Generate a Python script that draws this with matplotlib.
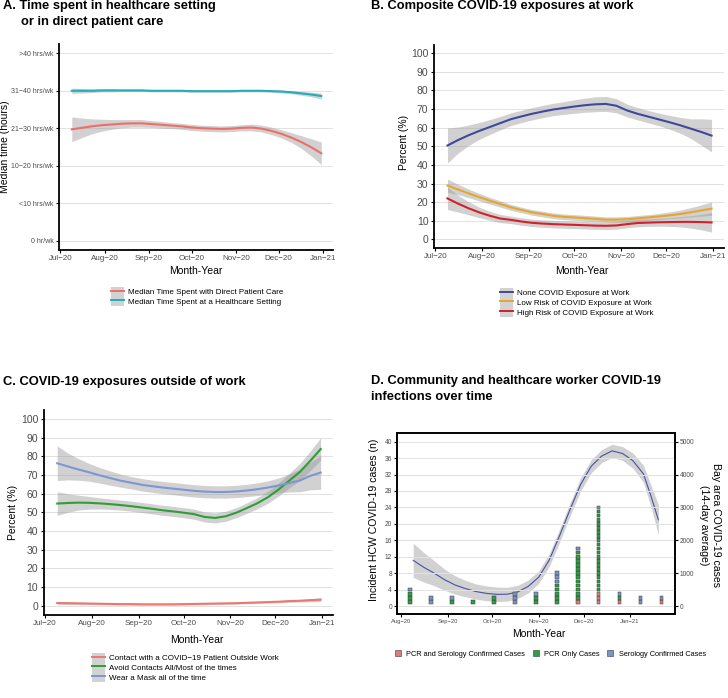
import numpy as np
import matplotlib
matplotlib.use("Agg")
import matplotlib.pyplot as plt
from matplotlib.lines import Line2D
from matplotlib.patches import Rectangle

plt.rcParams["font.family"] = ["Liberation Sans", "DejaVu Sans"]

# ---------------- data ----------------
# smoothed trends for panels A-C, read weekly from Jul 9 to Dec 31, 2020
trend_dates = np.arange(np.datetime64("2020-07-09"), np.datetime64("2021-01-01"), 7)

month_ticks = np.array(["2020-07-01", "2020-08-01", "2020-09-01", "2020-10-01",
                        "2020-11-01", "2020-12-01", "2021-01-01"], dtype="datetime64[D]")
month_labels = ["Jul\u221220", "Aug\u221220", "Sep\u221220", "Oct\u221220",
                "Nov\u221220", "Dec\u221220", "Jan\u221221"]

# A: median hours category (0 = "0 hr/wk" ... 5 = ">40 hrs/wk")
hour_labels = ["0 hr/wk", "<10 hrs/wk", "10\u221220 hrs/wk", "21\u221230 hrs/wk",
               "31\u221240 hrs/wk", ">40 hrs/wk"]
direct_care = [2.97, 3.01, 3.05, 3.08, 3.10, 3.12, 3.13, 3.13, 3.11, 3.09, 3.07, 3.05, 3.02,
               3.00, 2.99, 2.98, 2.99, 3.01, 3.02, 2.99, 2.93, 2.85, 2.75, 2.63, 2.49, 2.33]
direct_care_se = [0.33, 0.26, 0.2, 0.16, 0.13, 0.11, 0.1, 0.1, 0.09, 0.09, 0.08, 0.08, 0.08,
                  0.08, 0.08, 0.08, 0.08, 0.08, 0.09, 0.09, 0.1, 0.11, 0.13, 0.17, 0.23, 0.3]
hc_setting = [4.0, 4.0, 4.0, 4.01, 4.01, 4.01, 4.01, 4.01, 4.0, 4.0, 4.0, 4.0, 3.99,
              3.99, 3.99, 3.99, 3.99, 4.0, 4.0, 4.0, 3.99, 3.98, 3.96, 3.93, 3.9, 3.86]
hc_setting_se = [0.07, 0.06, 0.05, 0.04, 0.04, 0.03, 0.03, 0.03, 0.03, 0.03, 0.03, 0.03, 0.03,
                 0.03, 0.03, 0.03, 0.03, 0.03, 0.03, 0.03, 0.03, 0.04, 0.04, 0.05, 0.06, 0.08]

# B: composite exposure at work (%)
none_exp = [50.4, 53.3, 55.9, 58.2, 60.3, 62.4, 64.5, 66.0, 67.4, 68.6, 69.7, 70.5, 71.3,
            72.0, 72.5, 72.7, 71.7, 69.2, 67.4, 65.9, 64.4, 62.9, 61.3, 59.5, 57.7, 55.7]
none_exp_se = [9.4, 7.0, 5.5, 4.5, 4.0, 3.6, 3.4, 3.3, 3.3, 3.3, 3.3, 3.4, 3.6,
               3.8, 4.0, 4.0, 3.8, 3.4, 3.3, 3.3, 3.4, 3.7, 4.2, 5.2, 7.0, 8.8]
low_exp = [28.9, 26.8, 24.7, 22.7, 20.8, 19.0, 17.2, 15.8, 14.5, 13.6, 12.7, 12.1, 11.8,
           11.4, 11.0, 10.6, 10.6, 10.8, 11.3, 11.8, 12.3, 12.9, 13.6, 14.5, 15.5, 16.5]
low_exp_se = [3.5, 2.8, 2.3, 2.0, 1.8, 1.7, 1.6, 1.5, 1.5, 1.5, 1.5, 1.5, 1.5,
              1.5, 1.5, 1.5, 1.5, 1.5, 1.5, 1.5, 1.6, 1.8, 2.1, 2.5, 3.0, 3.6]
high_exp = [22.0, 19.2, 16.7, 14.5, 12.7, 11.2, 10.5, 9.6, 8.9, 8.5, 8.2, 8.0, 7.8,
            7.6, 7.4, 7.3, 7.5, 8.2, 8.8, 9.0, 9.2, 9.3, 9.4, 9.4, 9.3, 9.1]
high_exp_se = [6.0, 4.5, 3.5, 2.8, 2.4, 2.2, 2.0, 2.0, 2.0, 2.0, 2.0, 2.0, 2.0,
               2.0, 2.0, 2.0, 2.0, 2.0, 2.0, 2.0, 2.1, 2.3, 2.7, 3.3, 4.1, 5.2]

# C: exposures outside work (%)
contact_out = [1.4, 1.3, 1.2, 1.1, 1.0, 0.9, 0.8, 0.8, 0.7, 0.7, 0.7, 0.7, 0.8,
               0.9, 1.0, 1.1, 1.2, 1.3, 1.5, 1.7, 1.9, 2.1, 2.4, 2.6, 2.9, 3.2]
contact_out_se = [0.9, 0.8, 0.7, 0.6, 0.5, 0.5, 0.5, 0.5, 0.5, 0.5, 0.5, 0.5, 0.5,
                  0.5, 0.5, 0.5, 0.5, 0.5, 0.5, 0.5, 0.5, 0.6, 0.6, 0.7, 0.8, 1.0]
avoid = [54.7, 55.0, 55.2, 55.1, 54.8, 54.4, 53.9, 53.3, 52.6, 51.9, 51.1, 50.5, 49.8,
         49.0, 47.5, 47.0, 47.9, 49.8, 52.3, 54.9, 58.1, 62.2, 66.9, 71.5, 77.5, 83.9]
avoid_se = [6.3, 5.0, 4.0, 3.4, 3.0, 2.8, 2.7, 2.7, 2.7, 2.7, 2.7, 2.7, 2.7,
            2.7, 2.7, 2.7, 2.7, 2.7, 2.8, 3.0, 3.2, 3.5, 3.9, 4.5, 5.2, 6.0]
mask = [76.3, 74.6, 73.0, 71.5, 69.9, 68.4, 67.0, 65.9, 64.8, 64.0, 63.3, 62.7, 62.1,
        61.5, 61.1, 60.9, 60.9, 61.2, 61.7, 62.4, 63.3, 64.4, 65.7, 67.0, 69.5, 71.3]
mask_se = [9.3, 7.2, 5.8, 4.8, 4.2, 3.8, 3.5, 3.3, 3.3, 3.3, 3.3, 3.3, 3.3,
           3.3, 3.3, 3.3, 3.3, 3.3, 3.3, 3.4, 3.6, 4.0, 4.8, 6.0, 7.4, 9.0]

# D: incident HCW cases per two-week period
case_dates = np.array(["2020-08-07", "2020-08-21", "2020-09-04", "2020-09-18", "2020-10-02",
                       "2020-10-16", "2020-10-30", "2020-11-13", "2020-11-27", "2020-12-11",
                       "2020-12-25", "2021-01-08", "2021-01-22"], dtype="datetime64[D]")
pcr_sero = [0, 0, 0, 0, 0, 0, 0, 0, 1, 3, 1, 0, 1]
pcr_only = [3, 0, 1, 1, 2, 0, 2, 5, 12, 20, 1, 0, 0]
sero_only = [1, 2, 1, 0, 0, 3, 1, 3, 1, 1, 1, 2, 1]

# D: Bay area cases, 14-day average (smoothed)
bay_dates = np.array(["2020-08-09", "2020-08-16", "2020-08-23", "2020-08-30", "2020-09-06",
                      "2020-09-13", "2020-09-20", "2020-09-27", "2020-10-04", "2020-10-11",
                      "2020-10-18", "2020-10-25", "2020-11-01", "2020-11-08", "2020-11-15",
                      "2020-11-22", "2020-11-29", "2020-12-06", "2020-12-13", "2020-12-20",
                      "2020-12-27", "2021-01-03", "2021-01-10", "2021-01-15", "2021-01-20"],
                     dtype="datetime64[D]")
bay_cases = [1390, 1180, 1000, 800, 640, 530, 440, 385, 355, 360, 430, 600, 880, 1400, 2150,
             2950, 3700, 4250, 4560, 4720, 4640, 4420, 4020, 3350, 2620]
bay_cases_se = [520, 450, 380, 320, 280, 250, 230, 225, 220, 210, 200, 195, 190, 195, 200,
                200, 200, 200, 200, 200, 210, 230, 260, 330, 460]

d_month_ticks = np.array(["2020-08-01", "2020-09-01", "2020-10-01", "2020-11-01",
                          "2020-12-01", "2021-01-01"], dtype="datetime64[D]")
d_month_labels = month_labels[1:]

# ---------------- figure ----------------
fig = plt.figure(figsize=(7.28, 6.98), dpi=100)
axA = fig.add_axes([0.081, 0.642, 0.376, 0.295])
axB = fig.add_axes([0.596, 0.645, 0.398, 0.291])
axC = fig.add_axes([0.060, 0.119, 0.397, 0.294])
axD = fig.add_axes([0.545, 0.120, 0.382, 0.259])

band_col = "#999999"
grid_col = "#E2E2E2"
tick_col = "#4D4D4D"


def style(ax, ylim, yticks, xfs, yfs):
    for s in ["top", "right"]:
        ax.spines[s].set_visible(False)
    for s in ["left", "bottom"]:
        ax.spines[s].set_linewidth(1.3)
    ax.set_ylim(*ylim)
    ax.set_yticks(yticks)
    ax.grid(axis="y", color=grid_col, lw=0.7)
    ax.set_axisbelow(True)
    ax.set_xlim(np.datetime64("2020-06-30"), np.datetime64("2021-01-08"))
    ax.set_xticks(month_ticks)
    ax.set_xticklabels(month_labels)
    ax.tick_params(axis="x", length=2.5, width=0.8, pad=1.5, labelsize=xfs, labelcolor=tick_col)
    ax.tick_params(axis="y", length=2.5, width=0.8, pad=1.5, labelsize=yfs, labelcolor=tick_col)


def trend(ax, y, se, color):
    y = np.array(y)
    se = np.array(se)
    ax.fill_between(trend_dates, y - se, y + se, color=band_col, alpha=0.45, lw=0)
    ax.plot(trend_dates, y, color=color, lw=1.5, solid_joinstyle="round")


def key(color):
    return (Rectangle((0, 0), 1, 1, fc="#D2D2D2", ec="none"), Line2D([], [], color=color, lw=1.4))


def legend(handles, labels, x, y):
    fig.legend(handles, labels, loc="upper left", bbox_to_anchor=(x, y), frameon=False,
               fontsize=5.8, handlelength=1.6, handleheight=1.45, labelspacing=0,
               handletextpad=0.5, borderpad=0, borderaxespad=0)


# ---- A ----
style(axA, (-0.25, 5.25), range(6), 5.8, 5)
axA.set_yticklabels(hour_labels)
trend(axA, direct_care, direct_care_se, "#EE6F68")
trend(axA, hc_setting, hc_setting_se, "#22AEBB")
axA.set_ylabel("Median time (hours)", fontsize=7.5)
axA.yaxis.set_label_coords(-0.178, 0.5)
axA.set_xlabel("Month-Year", fontsize=7.5)
axA.xaxis.set_label_coords(0.5, -0.078)
fig.text(3 / 728, 1 - 6 / 698, "A. Time spent in healthcare setting", fontsize=9.3,
         fontweight="bold", va="center")
fig.text(21 / 728, 1 - 22 / 698, "or in direct patient care", fontsize=9.3,
         fontweight="bold", va="center")
legend([key("#EE6F68"), key("#22AEBB")],
       ["Median Time Spent with Direct Patient Care", "Median Time Spent at a Healthcare Setting"],
       111 / 728, 1 - 287 / 698)

# ---- B ----
style(axB, (-4.5, 104.5), range(0, 101, 10), 5.8, 7.5)
trend(axB, none_exp, none_exp_se, "#41489C")
trend(axB, low_exp, low_exp_se, "#E8A52E")
trend(axB, high_exp, high_exp_se, "#D4202A")
axB.set_ylabel("Percent (%)", fontsize=7.5)
axB.yaxis.set_label_coords(-0.086, 0.52)
axB.set_xlabel("Month-Year", fontsize=7.5)
axB.xaxis.set_label_coords(0.51, -0.089)
fig.text(371 / 728, 1 - 6 / 698, "B. Composite COVID-19 exposures at work", fontsize=9.3,
         fontweight="bold", va="center")
legend([key("#41489C"), key("#E8A52E"), key("#D4202A")],
       ["None COVID Exposure at Work", "Low Risk of COVID Exposure at Work",
        "High Risk of COVID Exposure at Work"],
       500 / 728, 1 - 288 / 698)

# ---- C ----
style(axC, (-5, 105), range(0, 101, 10), 5.8, 7.5)
trend(axC, contact_out, contact_out_se, "#EE7870")
trend(axC, avoid, avoid_se, "#2E9E35")
trend(axC, mask, mask_se, "#7C97D2")
axC.set_ylabel("Percent (%)", fontsize=7.5)
axC.yaxis.set_label_coords(-0.09, 0.5)
axC.set_xlabel("Month-Year", fontsize=7.5)
axC.xaxis.set_label_coords(0.53, -0.098)
fig.text(3 / 728, 1 - 382 / 698, "C. COVID-19 exposures outside of work", fontsize=9.3,
         fontweight="bold", va="center")
legend([key("#EE7870"), key("#2E9E35"), key("#7C97D2")],
       ["Contact with a COVID\u221219 Patient Outside Work", "Avoid Contacts All/Most of the times",
        "Wear a Mask all of the time"],
       92 / 728, 1 - 653 / 698)

# ---- D ----
ax2 = axD.twinx()
for ax in (axD, ax2):
    for s in ax.spines.values():
        s.set_linewidth(1.2)
axD.set_xlim(np.datetime64("2020-07-29"), np.datetime64("2021-01-31"))
axD.set_ylim(-2, 42)
axD.set_yticks(range(0, 41, 4))
ax2.set_ylim(-250, 5250)
ax2.set_yticks(range(0, 5001, 1000))
axD.set_xticks(d_month_ticks)
axD.set_xticklabels(d_month_labels)
axD.grid(axis="y", color=grid_col, lw=0.7)
axD.tick_params(axis="x", length=2, width=0.8, pad=1.5, labelsize=4.2, labelcolor=tick_col)
axD.tick_params(axis="y", length=2, width=0.8, pad=1.5, labelsize=4.8, labelcolor=tick_col)
ax2.tick_params(axis="y", length=2, width=0.8, pad=1.5, labelsize=4.8, labelcolor=tick_col)

bay = np.array(bay_cases)
bay_se = np.array(bay_cases_se)
ax2.fill_between(bay_dates, bay - bay_se, bay + bay_se, color=band_col, alpha=0.45, lw=0)
ax2.plot(bay_dates, bay, color="#4A50A6", lw=0.8, solid_joinstyle="round")

case_cols = {"pcr_sero": "#E07B7B", "pcr_only": "#2F9E44", "sero": "#7B93C9"}
xs, ys, cs = [], [], []
for i, dt in enumerate(case_dates):
    stack = (["pcr_sero"] * pcr_sero[i] + ["pcr_only"] * pcr_only[i] + ["sero"] * sero_only[i])
    for j, kind in enumerate(stack):
        xs.append(dt)
        ys.append(j + 1)
        cs.append(case_cols[kind])
axD.set_zorder(ax2.get_zorder() + 1)
axD.patch.set_visible(False)
axD.scatter(xs, ys, marker="s", s=7, c=cs, edgecolors="#3A3A3A", linewidths=0.35, zorder=3)

axD.set_ylabel("Incident HCW COVID-19 cases (n)", fontsize=7.6)
axD.yaxis.set_label_coords(-0.065, 0.52)
axD.set_xlabel("Month-Year", fontsize=7.5)
axD.xaxis.set_label_coords(0.51, -0.083)
fig.text(710 / 728, 1 - 525 / 698, "Bay area COVID-19 cases\n(14-day average)", fontsize=7.6,
         rotation=270, ha="center", va="center", multialignment="center")
fig.text(371 / 728, 1 - 381 / 698, "D. Community and healthcare worker COVID-19", fontsize=9.3,
         fontweight="bold", va="center")
fig.text(371 / 728, 1 - 397 / 698, "infections over time", fontsize=9.3,
         fontweight="bold", va="center")

d_handles = [Line2D([], [], ls="none", marker="s", markersize=4, markerfacecolor=case_cols[k],
                    markeredgecolor="#3A3A3A", markeredgewidth=0.4)
             for k in ["pcr_sero", "pcr_only", "sero"]]
fig.legend(d_handles, ["PCR and Serology Confirmed Cases", "PCR Only Cases", "Serology Confirmed Cases"],
           loc="center left", bbox_to_anchor=(394 / 728, 1 - 654 / 698), ncol=3, frameon=False,
           fontsize=5.3, handlelength=1.0, handletextpad=0.6, columnspacing=1.0,
           borderpad=0, borderaxespad=0)

fig.savefig("out.png", dpi=100)
